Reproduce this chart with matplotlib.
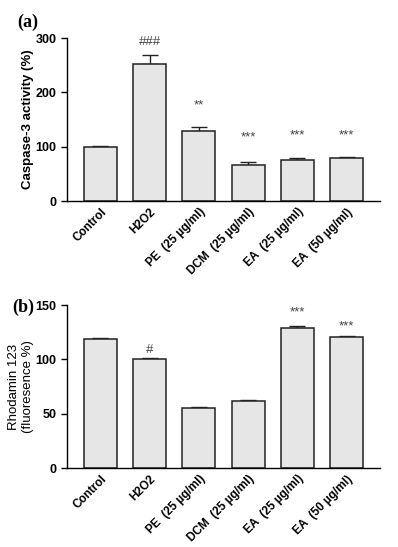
import matplotlib
matplotlib.use('Agg')
import matplotlib.pyplot as plt
import numpy as np

plt.rcParams['font.family'] = ['Liberation Sans', 'DejaVu Sans']

groups = ['Control', 'H2O2', 'PE  (25 \u00b5g/ml)', 'DCM  (25 \u00b5g/ml)',
          'EA  (25 \u00b5g/ml)', 'EA  (50 \u00b5g/ml)']

# (a) caspase-3
casp = [100, 253, 129, 67, 76, 80]
casp_err = [1.5, 15, 8, 4, 4, 1.5]
casp_sig = ['', '###', '**', '***', '***', '***']
casp_sig_y = [0, 282, 165, 106, 110, 110]

# (b) rhodamin 123
rho = [119, 100, 55, 62, 129, 121]
rho_err = [0.8, 0.8, 0.8, 0.3, 1.5, 0.3]
rho_sig = ['', '#', '', '', '***', '***']
rho_sig_y = [0, 103, 0, 0, 138, 125]

fig = plt.figure(figsize=(3.98, 5.47), dpi=100)
ax1 = fig.add_axes([0.168, 0.6325, 0.787, 0.298])
ax2 = fig.add_axes([0.168, 0.1444, 0.787, 0.298])

x = np.arange(len(groups))


def draw(ax, vals, errs, sig, sig_y, ymax, yticks, ylabel, bold_label):
    ax.bar(x, vals, width=0.67, color='#e6e6e6', edgecolor='#222222',
           linewidth=1.1, zorder=2)
    ax.errorbar(x, vals, yerr=[np.zeros(len(vals)), errs], fmt='none',
                ecolor='#222222', elinewidth=1.0, capsize=6, capthick=1.0, zorder=1)
    for xi, s, yy in zip(x, sig, sig_y):
        if s:
            ax.text(xi, yy, s, ha='center', va='bottom', fontsize=9.5,
                    color='#444444')
    ax.set_xlim(-0.68, 5.68)
    ax.set_ylim(0, ymax)
    ax.set_yticks(yticks)
    ax.spines['top'].set_visible(False)
    ax.spines['right'].set_visible(False)
    ax.spines['left'].set_linewidth(1.0)
    ax.spines['bottom'].set_linewidth(1.0)
    ax.tick_params(axis='y', direction='out', length=4, width=1.0, labelsize=9)
    ax.tick_params(axis='x', length=0, labelsize=8.5)
    ax.set_xticks(x)
    ax.set_xticklabels(groups, rotation=45, ha='right', rotation_mode='anchor',
                       fontweight='bold')
    for lab in ax.get_yticklabels():
        lab.set_fontweight('bold')
    ax.set_ylabel(ylabel, fontsize=9.5, labelpad=1,
                  fontweight='bold' if bold_label else 'normal')


draw(ax1, casp, casp_err, casp_sig, casp_sig_y, 300, [0, 100, 200, 300],
     'Caspase-3 activity (%)', True)
draw(ax2, rho, rho_err, rho_sig, rho_sig_y, 150, [0, 50, 100, 150],
     'Rhodamin 123\n(fluoresence %)', False)

fig.text(0.043, 0.96, '(a)', fontsize=13, fontweight='bold',
         family='Liberation Serif', va='center')
fig.text(0.03, 0.439, '(b)', fontsize=13, fontweight='bold',
         family='Liberation Serif', va='center')

fig.savefig('out.png', dpi=100)
